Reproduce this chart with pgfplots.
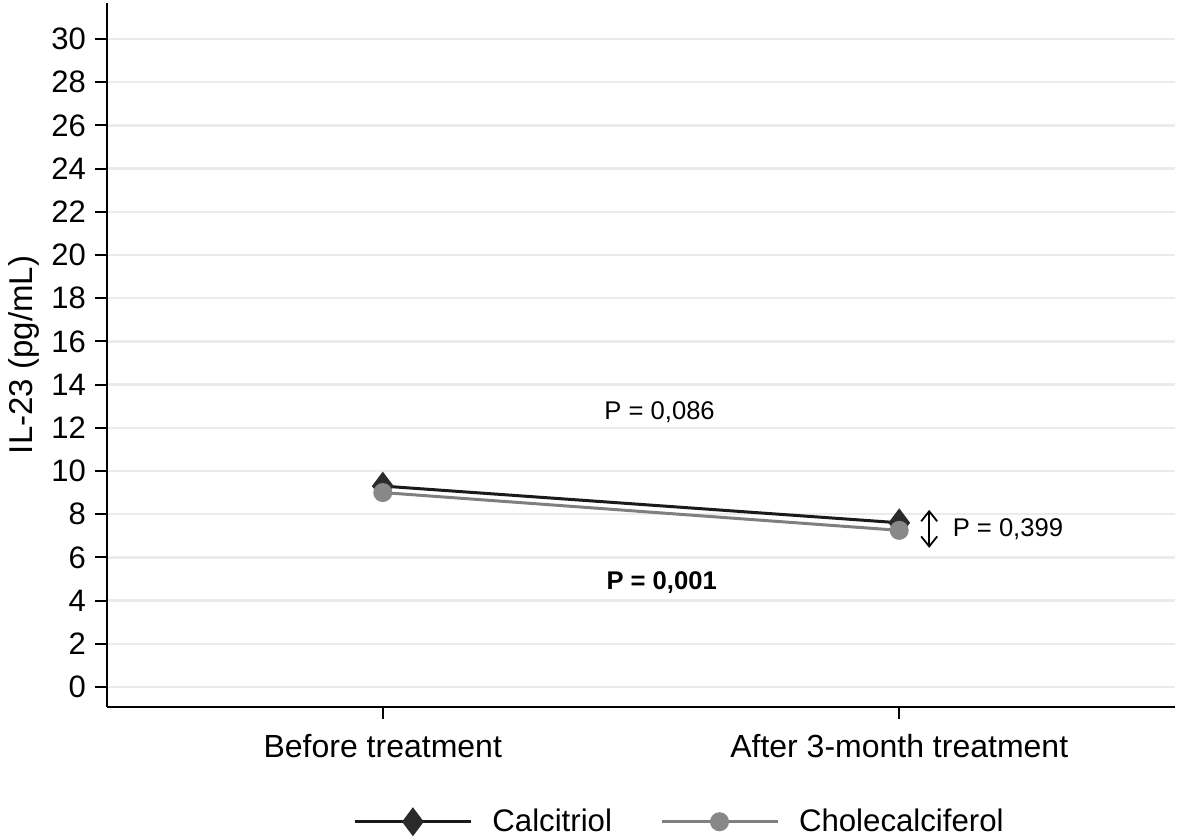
\documentclass[border=0pt]{standalone}
\usepackage{pgfplots}
\pgfplotsset{compat=1.18}
\usetikzlibrary{arrows.meta}
\usepackage{fontspec}
\setmainfont{Liberation Sans}
\definecolor{calc}{HTML}{1A1A1A}
\definecolor{calcm}{HTML}{2A2A2A}
\definecolor{chol}{HTML}{7F7F7F}
\definecolor{cholm}{HTML}{888888}
\definecolor{gridc}{HTML}{EBEBEB}
\begin{document}
\begin{tikzpicture}
\useasboundingbox (0,0) rectangle (590.5pt,419pt);
\begin{axis}[
  at={(53.5pt,65.5pt)}, anchor=south west,
  width=534pt, height=352pt, scale only axis,
  xmin=-0.534, xmax=1.534, ymin=-0.93, ymax=31.67,
  axis x line*=bottom, axis y line*=left,
  axis line style={line width=1pt, black},
  xtick={0,1}, xticklabels={Before treatment, After 3-month treatment},
  ytick={0,2,...,30},
  tick align=outside, major tick length=6pt,
  tick style={line width=1pt, black},
  ymajorgrids, grid style={gridc, line width=1.2pt},
  /pgf/number format/assume math mode=true,
  yticklabel style={font=\fontsize{15.5}{16}\selectfont, xshift=-1pt},
  xticklabel style={font=\fontsize{16}{18}\selectfont, yshift=-4pt},
  ylabel={IL-23 (pg/mL)},
  ylabel style={font=\fontsize{16.5}{18}\selectfont, yshift=-1pt},
  legend style={at={(0.537,-0.163)}, anchor=center, draw=none, fill=none,
    font=\fontsize{15.6}{18}\selectfont, legend columns=2,
    /tikz/every odd column/.append style={column sep=8pt},
    /tikz/every even column/.append style={column sep=22pt}},
  legend image code/.code={
    \draw[#1, mark=none] (0pt,0pt) -- (58pt,0pt);
    \draw[#1, only marks] plot coordinates {(29pt,0pt)};
  },
  clip=false,
]
\addplot[calc, line width=1.5pt, mark=diamond*, mark size=6pt,
  mark options={fill=calcm, draw=calcm}] coordinates {(0,9.3) (1,7.6)};
\addlegendentry{Calcitriol}
\addplot[chol, line width=1.5pt, mark=*, mark size=4pt,
  mark options={fill=cholm, draw=cholm}] coordinates {(0,9.0) (1,7.25)};
\addlegendentry{Cholecalciferol}
\node[font=\fontsize{12.8}{14}\selectfont] at (axis cs:0.536,12.73) {P = 0,086};
\node[font=\fontsize{12.8}{14}\selectfont\bfseries] at (axis cs:0.54,4.81) {P = 0,001};
\node[font=\fontsize{12.8}{14}\selectfont, anchor=west] at (axis cs:1.09,7.31) {P = 0,399};
\draw[{Straight Barb[length=5pt,width=8pt]}-{Straight Barb[length=5pt,width=8pt]}, line width=0.9pt] (axis cs:1.058,8.2) -- (axis cs:1.058,6.44);
\end{axis}
\end{tikzpicture}
\end{document}
